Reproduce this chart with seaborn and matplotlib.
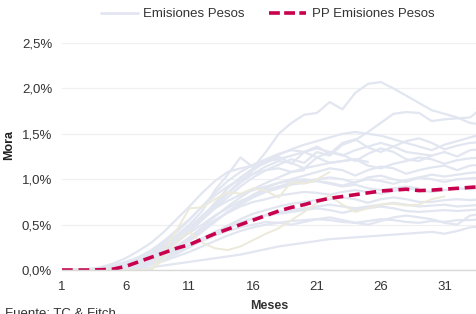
import pandas as pd
import matplotlib.pyplot as plt
import seaborn as sns
from matplotlib.lines import Line2D
from matplotlib.ticker import FuncFormatter, MultipleLocator

sns.set_style("white")
plt.rcParams['font.family'] = ['Liberation Sans', 'DejaVu Sans']

# Mora (%) por mes desde la emisión, una lista por emisión
emisiones = {
    'A': [0, 0, 0, 0.01, 0.03, 0.06, 0.12, 0.2, 0.28, 0.38, 0.5, 0.65, 0.88, 1.05, 1.24, 1.13, 1.3, 1.5, 1.62, 1.71,
          1.73, 1.85, 1.77, 1.95, 2.05, 2.07, 2.0, 1.92, 1.84, 1.76, 1.72, 1.68, 1.62, 1.6],
    'B': [0, 0, 0, 0, 0.02, 0.05, 0.1, 0.16, 0.24, 0.33, 0.43, 0.55, 0.68, 0.8, 0.92, 1.02, 1.1, 1.16, 1.22, 1.18,
          1.3, 1.26, 1.38, 1.43, 1.52, 1.62, 1.72, 1.74, 1.73, 1.64, 1.66, 1.67, 1.68, 1.79],
    'C': [0, 0, 0, 0.02, 0.05, 0.09, 0.14, 0.2, 0.28, 0.37, 0.47, 0.6, 0.72, 0.85, 0.98, 1.1, 1.2, 1.27, 1.33, 1.38,
          1.42, 1.46, 1.5, 1.52, 1.5, 1.48, 1.44, 1.4, 1.36, 1.32, 1.38, 1.42, 1.46, 1.5],
    'D': [0, 0, 0, 0, 0.01, 0.04, 0.08, 0.14, 0.22, 0.32, 0.44, 0.58, 0.74, 0.9, 1.02, 1.12, 1.18, 1.25, 1.17, 1.3,
          1.36, 1.28, 1.4, 1.44, 1.35, 1.3, 1.36, 1.42, 1.45, 1.4, 1.33, 1.37, 1.4, 1.41],
    'E': [0, 0, 0, 0, 0, 0.02, 0.06, 0.12, 0.2, 0.3, 0.42, 0.56, 0.7, 0.84, 0.96, 1.06, 1.14, 1.2, 1.18, 1.12,
          1.24, 1.3, 1.27, 1.2, 1.28, 1.34, 1.3, 1.22, 1.2, 1.26, 1.3, 1.25, 1.32, 1.33],
    'F': [0, 0, 0, 0.01, 0.03, 0.07, 0.13, 0.2, 0.3, 0.42, 0.55, 0.7, 0.85, 0.98, 1.08, 1.16, 1.22, 1.28, 1.32, 1.3,
          1.24, 1.18, 1.2, 1.22, 1.19],
    'G': [0, 0, 0, 0, 0.01, 0.03, 0.07, 0.12, 0.18, 0.26, 0.36, 0.47, 0.59, 0.7, 0.8, 0.89, 0.96, 1.02, 1.08, 1.12,
          1.15, 1.18, 1.2, 1.22, 1.15, 1.12, 1.17, 1.2, 1.24, 1.22, 1.17, 1.21, 1.23, 1.24],
    'H': [0, 0, 0, 0, 0, 0.01, 0.04, 0.09, 0.15, 0.23, 0.32, 0.42, 0.53, 0.64, 0.74, 0.83, 0.9, 0.96, 1.0, 1.04,
          1.08, 1.12, 1.1, 1.04, 1.1, 1.14, 1.12, 1.06, 1.1, 1.13, 1.15, 1.1, 1.15, 1.16],
    'I': [0, 0, 0, 0, 0.02, 0.05, 0.1, 0.16, 0.23, 0.32, 0.41, 0.5, 0.6, 0.68, 0.76, 0.82, 0.88, 0.92, 0.96, 0.98,
          1.0, 1.02, 1.0, 0.96, 1.02, 1.04, 1.0, 0.97, 1.02, 1.05, 1.03, 1.05, 1.07, 1.08],
    'J': [0, 0, 0, 0, 0, 0.02, 0.05, 0.1, 0.16, 0.24, 0.33, 0.43, 0.54, 0.64, 0.72, 0.8, 0.86, 0.9, 0.94, 0.96,
          0.98, 0.96, 0.93, 0.97, 1.0, 0.98, 0.95, 0.99, 1.02, 1.0, 0.97, 1.0, 1.01, 1.02],
    'K': [0, 0, 0, 0, 0, 0.01, 0.03, 0.07, 0.12, 0.18, 0.25, 0.33, 0.41, 0.49, 0.56, 0.62, 0.66, 0.7, 0.73, 0.75,
          0.77, 0.78, 0.8, 0.78, 0.74, 0.78, 0.8, 0.78, 0.75, 0.75, 0.77, 0.78, 0.77, 0.78],
    'L': [0, 0, 0, 0, 0.01, 0.03, 0.06, 0.1, 0.15, 0.21, 0.28, 0.35, 0.42, 0.48, 0.53, 0.57, 0.6, 0.62, 0.64, 0.66,
          0.68, 0.66, 0.63, 0.66, 0.68, 0.7, 0.68, 0.65, 0.64, 0.65, 0.66, 0.65, 0.66, 0.67],
    'M': [0, 0, 0, 0, 0, 0.01, 0.03, 0.06, 0.1, 0.15, 0.2, 0.26, 0.32, 0.38, 0.43, 0.47, 0.5, 0.52, 0.54, 0.55,
          0.56, 0.55, 0.53, 0.52, 0.54, 0.56, 0.55, 0.53, 0.52, 0.54, 0.53, 0.55, 0.55, 0.56],
    'N': [0, 0, 0, 0, 0, 0, 0.01, 0.03, 0.05, 0.07, 0.09, 0.11, 0.13, 0.15, 0.17, 0.2, 0.23, 0.26, 0.28, 0.3,
          0.32, 0.34, 0.35, 0.36, 0.37, 0.38, 0.39, 0.4, 0.41, 0.42, 0.4, 0.43, 0.47, 0.48],
    'O': [0, 0, 0, 0, 0.01, 0.02, 0.05, 0.09, 0.14, 0.2, 0.26, 0.32, 0.38, 0.43, 0.47, 0.5, 0.53, 0.52, 0.5, 0.53,
          0.56, 0.58, 0.55, 0.52, 0.5, 0.54, 0.58, 0.6, 0.58, 0.56, 0.52, 0.5, 0.6, 0.62],
    'P': [0, 0, 0, 0.01, 0.03, 0.06, 0.11, 0.18, 0.26, 0.36, 0.47, 0.58, 0.68, 0.76, 0.83, 0.88, 0.92, 0.96, 0.98, 1.0,
          0.98, 0.95, 0.92, 0.94, 0.9, 0.88, 0.9, 0.92, 0.9],
    'Q': [0, 0, 0.01, 0.03, 0.07, 0.13, 0.21, 0.3, 0.42, 0.56, 0.7, 0.85, 0.98, 1.08, 1.12, 1.15, 1.2, 1.22, 1.26, 1.3,
          1.34, 1.3, 1.26, 1.32, 1.36, 1.4, 1.36, 1.3, 1.28, 1.26],
    'R': [0, 0, 0, 0, 0.01, 0.03, 0.07, 0.12, 0.18, 0.26, 0.35, 0.45, 0.55, 0.63, 0.7, 0.75, 0.78, 0.82, 0.84, 0.86,
          0.85, 0.83, 0.86, 0.88, 0.86, 0.84, 0.87, 0.9, 0.88, 0.86, 0.88, 0.9, 0.89, 0.9],
    'S': [0, 0, 0, 0.01, 0.04, 0.08, 0.14, 0.22, 0.32, 0.44, 0.56, 0.7, 0.82, 0.92, 1.0, 1.06, 1.1, 1.12, 1.08, 1.1],
    'T': [0, 0, 0, 0, 0, 0.02, 0.04, 0.08, 0.13, 0.19, 0.26, 0.33, 0.4, 0.46, 0.52, 0.57, 0.61, 0.64, 0.66, 0.68,
          0.7, 0.72, 0.7, 0.68, 0.7, 0.72, 0.74, 0.72, 0.7, 0.71, 0.72, 0.7, 0.71, 0.72],
}

# emisiones resaltadas en beige
emisiones_beige = {
    'B1': [0, 0, 0, 0, 0, 0, 0, 0.01, 0.2, 0.44, 0.68, 0.69, 0.78, 0.86, 0.84, 0.9, 0.87, 0.8, 0.97, 0.95,
           1.0, 1.08],
    'B2': [0, 0, 0, 0, 0, 0, 0, 0.0, 0.12, 0.32, 0.42, 0.3, 0.24, 0.22, 0.26, 0.33, 0.4, 0.46, 0.55, 0.64,
           0.74, 0.82, 0.72, 0.64, 0.68, 0.72, 0.73, 0.71, 0.72, 0.78, 0.81],
}

# promedio ponderado
pp = [0, 0, 0, 0.003, 0.01, 0.04, 0.09, 0.14, 0.19, 0.24, 0.28, 0.34, 0.4, 0.45, 0.5, 0.55, 0.6, 0.65, 0.69, 0.72,
      0.76, 0.79, 0.81, 0.83, 0.85, 0.87, 0.88, 0.89, 0.875, 0.88, 0.89, 0.9, 0.91, 0.92]

y_ticks = [0, 0.5, 1.0, 1.5, 2.0, 2.5]
x_ticks = [1, 6, 11, 16, 21, 26, 31]

LAVANDA = '#E2E6F1'
BEIGE = '#ECEADB'
ROJO = '#C8004D'


def to_long(d):
    rows = []
    for name, vals in d.items():
        for i, v in enumerate(vals):
            rows.append({'Serie': name, 'Mes': i + 1, 'Mora': v})
    return pd.DataFrame(rows)


df_lav = to_long(emisiones)
df_beige = to_long(emisiones_beige)
df_pp = pd.DataFrame({'Mes': range(1, len(pp) + 1), 'Mora': pp})

fig = plt.figure(figsize=(4.76, 3.14), dpi=100)
ax = fig.add_axes([0.130, 0.140, 0.870, 0.723])

sns.lineplot(data=df_lav, x='Mes', y='Mora', units='Serie', estimator=None,
             color=LAVANDA, lw=1.6, ax=ax)
sns.lineplot(data=df_beige, x='Mes', y='Mora', units='Serie', estimator=None,
             color=BEIGE, lw=1.4, ax=ax)
sns.lineplot(data=df_pp, x='Mes', y='Mora', color=ROJO, lw=2.6,
             dashes=False, ax=ax)
ax.lines[-1].set_dashes((3, 1.6))

ax.set_xlim(1, 33.47)
ax.set_ylim(0, 2.5)
ax.set_yticks(y_ticks)
ax.yaxis.set_major_formatter(FuncFormatter(lambda v, p: f"{v:.1f}%".replace('.', ',')))
ax.set_xticks(x_ticks)
ax.xaxis.set_minor_locator(MultipleLocator(1))

ax.grid(axis='y', color='#F0F0F3', lw=0.9)
ax.set_axisbelow(True)
for s in ['top', 'right', 'left']:
    ax.spines[s].set_visible(False)
ax.spines['bottom'].set_color('#D9D9D9')
ax.spines['bottom'].set_linewidth(1.0)

ax.tick_params(axis='y', length=0, pad=7, labelsize=9.5, labelcolor='#333333')
ax.tick_params(axis='x', which='both', direction='out', length=3.6, color='#D9D9D9',
               pad=4.5, labelsize=9.5, labelcolor='#333333')

ax.set_xlabel('Meses', fontsize=9, fontweight='bold', color='#333333', labelpad=5)
ax.set_ylabel('Mora', fontsize=9, fontweight='bold', color='#222222')
ax.yaxis.set_label_coords(-0.112, 0.55)

handles = [Line2D([], [], color=LAVANDA, lw=2),
           Line2D([], [], color=ROJO, lw=2.6, dashes=(3, 1.2))]
fig.legend(handles, ['Emisiones Pesos', 'PP Emisiones Pesos'], loc='center',
           bbox_to_anchor=(0.562, 0.955), ncol=2, frameon=False, fontsize=9.5,
           handlelength=2.8, handletextpad=0.4, columnspacing=1.9, labelcolor='#333333')

fig.text(0.01, 0.02, 'Fuente: TC & Fitch', fontsize=9.5, color='#333333', va='top')

fig.savefig('out.png', dpi=100)
